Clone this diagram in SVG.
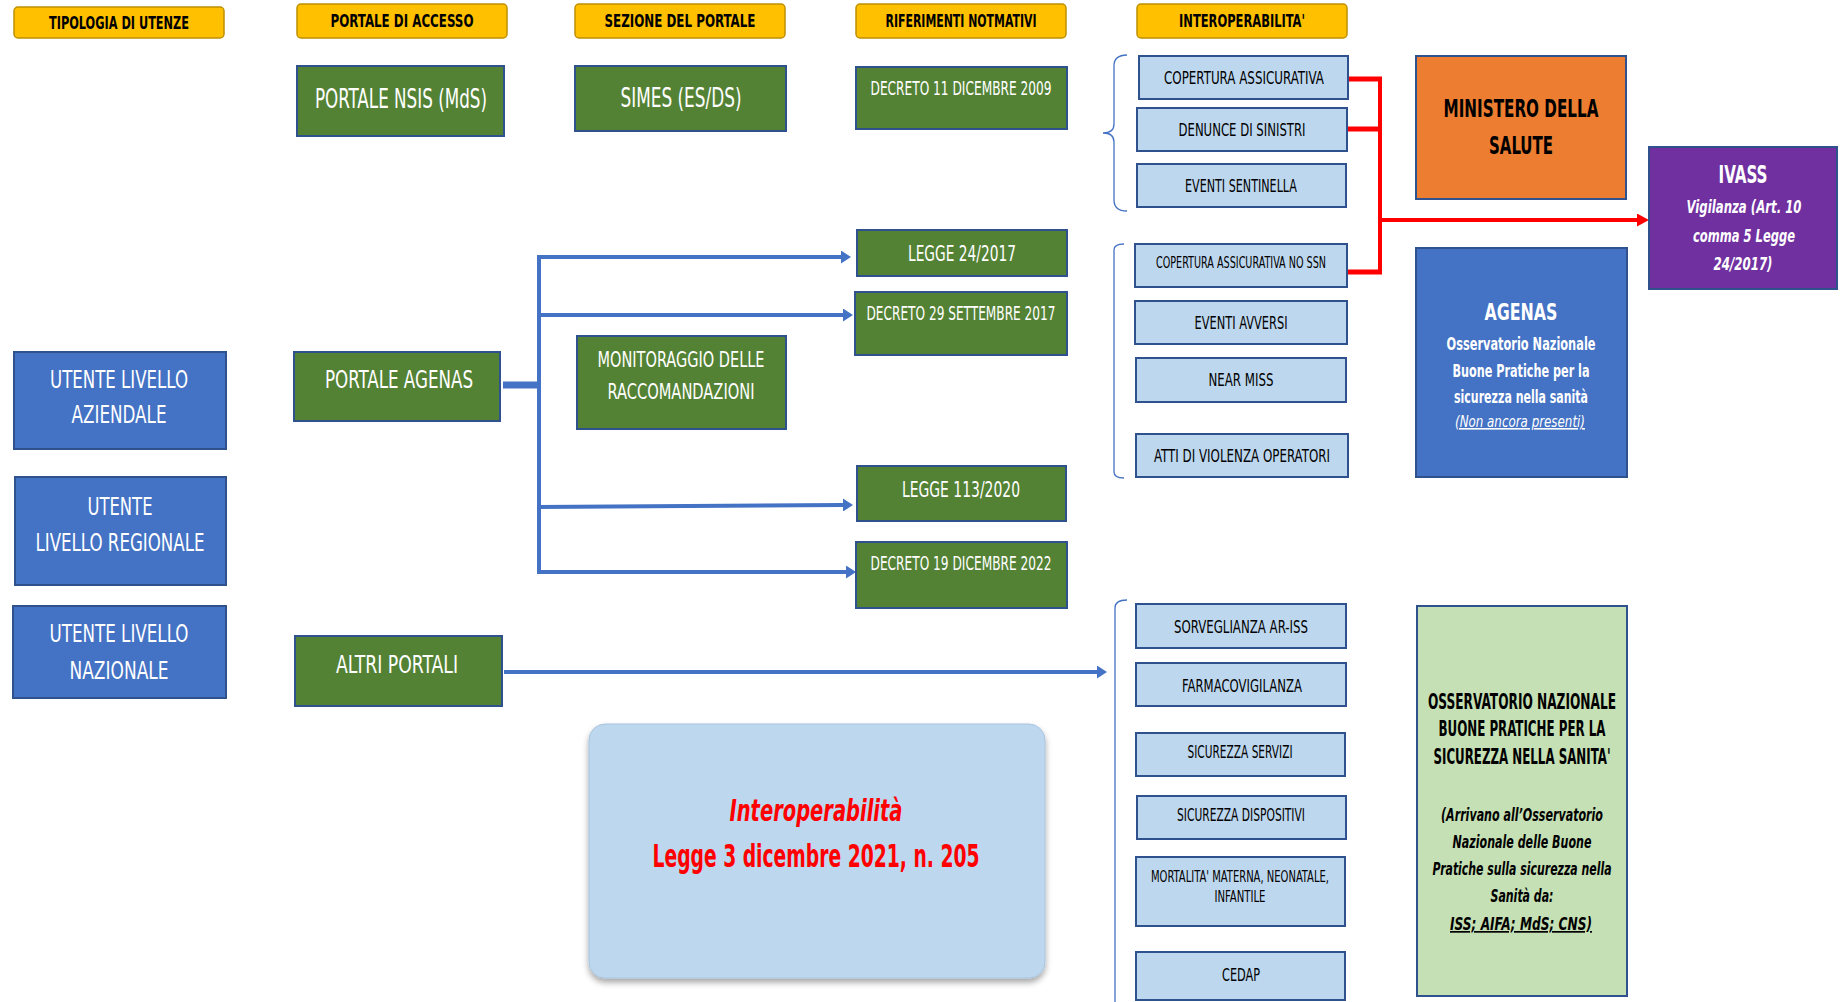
<svg xmlns="http://www.w3.org/2000/svg" width="1844" height="1002" viewBox="0 0 1844 1002">
<style>
text{font-family:'Liberation Sans Narrow','DejaVu Sans Condensed','Liberation Sans',sans-serif;text-anchor:middle}
.hdr rect{fill:#FFC000;stroke:#BF9000;stroke-width:1.5}
.hdr text{font-weight:bold;font-size:17px;fill:#000}
.g rect{fill:#548235;stroke:#2F528F;stroke-width:2}
.b rect{fill:#4472C4;stroke:#2F528F;stroke-width:2}
.lb rect{fill:#BDD7EE;stroke:#2F528F;stroke-width:2}
.w{fill:#fff}
.k{fill:#000}
.blue{stroke:#4472C4;fill:none}
.red{stroke:#FF0000;fill:none}
.brace{stroke:#4472C4;stroke-width:1.3;fill:none}
</style>
<defs>
<marker id="ab" viewBox="0 -6.5 10 13" refX="0" refY="0" markerWidth="10" markerHeight="13" markerUnits="userSpaceOnUse" orient="auto"><path d="M0,-6.5 L10,0 L0,6.5 z" fill="#4472C4"/></marker>
<marker id="ar" viewBox="0 -6.5 12 13" refX="0" refY="0" markerWidth="12" markerHeight="13" markerUnits="userSpaceOnUse" orient="auto"><path d="M0,-6.5 L12,0 L0,6.5 z" fill="#FF0000"/></marker>
<filter id="sh" x="-10%" y="-10%" width="120%" height="130%"><feDropShadow dx="0" dy="4" stdDeviation="3" flood-color="#000" flood-opacity="0.35"/></filter>
</defs>

<!-- headers -->
<g id="h-tipologia" class="hdr"><rect x="14" y="7" width="210" height="31" rx="4"/><text x="119" y="29" textLength="140" lengthAdjust="spacingAndGlyphs">TIPOLOGIA  DI UTENZE</text></g>
<g id="h-portale" class="hdr"><rect x="297" y="4" width="210" height="34" rx="4"/><text x="402" y="27" textLength="143" lengthAdjust="spacingAndGlyphs">PORTALE  DI ACCESSO</text></g>
<g id="h-sezione" class="hdr"><rect x="575" y="4" width="210" height="34" rx="4"/><text x="680" y="27" textLength="151" lengthAdjust="spacingAndGlyphs">SEZIONE  DEL  PORTALE</text></g>
<g id="h-riferimenti" class="hdr"><rect x="856" y="4" width="210" height="34" rx="4"/><text x="961" y="27" textLength="151" lengthAdjust="spacingAndGlyphs">RIFERIMENTI  NOTMATIVI</text></g>
<g id="h-interop" class="hdr"><rect x="1137" y="4" width="210" height="34" rx="4"/><text x="1242" y="27" textLength="126" lengthAdjust="spacingAndGlyphs">INTEROPERABILITA'</text></g>

<!-- connectors -->
<g id="connectors">
<path class="blue" stroke-width="7" d="M503,385 H541"/>
<path class="blue" stroke-width="4" d="M539,255 V574"/>
<path class="blue" stroke-width="4" d="M537,257 H841" marker-end="url(#ab)"/>
<path class="blue" stroke-width="4" d="M537,315 H843" marker-end="url(#ab)"/>
<path class="blue" stroke-width="4" d="M537,507 L843,505" marker-end="url(#ab)"/>
<path class="blue" stroke-width="4" d="M537,572 H846" marker-end="url(#ab)"/>
<path class="blue" stroke-width="4" d="M504,672 H1097" marker-end="url(#ab)"/>
<path class="red" stroke-width="5" d="M1348,79 H1382"/>
<path class="red" stroke-width="5" d="M1347,129 H1382"/>
<path class="red" stroke-width="5" d="M1347,272 H1382"/>
<path class="red" stroke-width="4" d="M1380,77 V274"/>
<path class="red" stroke-width="4" d="M1380,220 H1637" marker-end="url(#ar)"/>
<path class="brace" d="M1127,55 Q1114,55 1114,66 L1114,124 Q1114,133 1103,133 Q1114,133 1114,142 L1114,200 Q1114,211 1127,211"/>
<path class="brace" d="M1124,244 Q1114,244 1114,250 L1114,472 Q1114,478 1124,478"/>
<path class="brace" d="M1127,600 Q1115,600 1115,608 L1115,1002"/>
</g>

<!-- users -->
<g id="utente-aziendale" class="b"><rect x="14" y="352" width="212" height="97"/><text class="w" font-size="25" x="119" y="388" textLength="138" lengthAdjust="spacingAndGlyphs">UTENTE LIVELLO</text><text class="w" font-size="25" x="119" y="423" textLength="95" lengthAdjust="spacingAndGlyphs">AZIENDALE</text></g>
<g id="utente-regionale" class="b"><rect x="15" y="477" width="211" height="108"/><text class="w" font-size="25" x="120" y="515" textLength="65" lengthAdjust="spacingAndGlyphs">UTENTE</text><text class="w" font-size="25" x="120" y="551" textLength="169" lengthAdjust="spacingAndGlyphs">LIVELLO REGIONALE</text></g>
<g id="utente-nazionale" class="b"><rect x="13" y="606" width="213" height="92"/><text class="w" font-size="25" x="119" y="642" textLength="139" lengthAdjust="spacingAndGlyphs">UTENTE LIVELLO</text><text class="w" font-size="25" x="119" y="679" textLength="99" lengthAdjust="spacingAndGlyphs">NAZIONALE</text></g>

<!-- portals -->
<g id="portale-nsis" class="g"><rect x="297" y="66" width="207" height="70"/><text class="w" font-size="26" x="401" y="108" textLength="172" lengthAdjust="spacingAndGlyphs">PORTALE NSIS (MdS)</text></g>
<g id="portale-agenas" class="g"><rect x="294" y="352" width="206" height="69"/><text class="w" font-size="25" x="399" y="388" textLength="148" lengthAdjust="spacingAndGlyphs">PORTALE AGENAS</text></g>
<g id="altri-portali" class="g"><rect x="295" y="636" width="207" height="70"/><text class="w" font-size="25" x="397" y="673" textLength="122" lengthAdjust="spacingAndGlyphs">ALTRI PORTALI</text></g>

<!-- sections -->
<g id="simes" class="g"><rect x="575" y="66" width="211" height="65"/><text class="w" font-size="26" x="681" y="107" textLength="121" lengthAdjust="spacingAndGlyphs">SIMES (ES/DS)</text></g>
<g id="monitoraggio" class="g"><rect x="577" y="336" width="209" height="93"/><text class="w" font-size="21" x="681" y="367" textLength="167" lengthAdjust="spacingAndGlyphs">MONITORAGGIO DELLE</text><text class="w" font-size="21" x="681" y="399" textLength="147" lengthAdjust="spacingAndGlyphs">RACCOMANDAZIONI</text></g>

<!-- norms -->
<g id="decreto-2009" class="g"><rect x="856" y="67" width="211" height="62"/><text class="w" font-size="19" x="961" y="95" textLength="181" lengthAdjust="spacingAndGlyphs">DECRETO 11 DICEMBRE 2009</text></g>
<g id="legge-24-2017" class="g"><rect x="857" y="230" width="210" height="46"/><text class="w" font-size="21" x="962" y="261" textLength="108" lengthAdjust="spacingAndGlyphs">LEGGE 24/2017</text></g>
<g id="decreto-2017" class="g"><rect x="855" y="292" width="212" height="63"/><text class="w" font-size="19" x="961" y="320" textLength="189" lengthAdjust="spacingAndGlyphs">DECRETO 29 SETTEMBRE 2017</text></g>
<g id="legge-113-2020" class="g"><rect x="857" y="466" width="209" height="55"/><text class="w" font-size="21" x="961" y="497" textLength="118" lengthAdjust="spacingAndGlyphs">LEGGE 113/2020</text></g>
<g id="decreto-2022" class="g"><rect x="856" y="542" width="211" height="66"/><text class="w" font-size="19" x="961" y="570" textLength="181" lengthAdjust="spacingAndGlyphs">DECRETO 19 DICEMBRE 2022</text></g>

<!-- interoperability items -->
<g id="copertura" class="lb"><rect x="1139" y="56" width="209" height="43"/><text class="k" font-size="18" x="1244" y="84" textLength="160" lengthAdjust="spacingAndGlyphs">COPERTURA  ASSICURATIVA</text></g>
<g id="denunce" class="lb"><rect x="1137" y="108" width="210" height="43"/><text class="k" font-size="18" x="1242" y="136" textLength="127" lengthAdjust="spacingAndGlyphs">DENUNCE  DI SINISTRI</text></g>
<g id="sentinella" class="lb"><rect x="1137" y="164" width="209" height="43"/><text class="k" font-size="18" x="1241" y="192" textLength="112" lengthAdjust="spacingAndGlyphs">EVENTI  SENTINELLA</text></g>
<g id="copertura-nossn" class="lb"><rect x="1135" y="244" width="212" height="43"/><text class="k" font-size="15" x="1241" y="268" textLength="170" lengthAdjust="spacingAndGlyphs">COPERTURA ASSICURATIVA NO SSN</text></g>
<g id="avversi" class="lb"><rect x="1135" y="301" width="212" height="43"/><text class="k" font-size="18" x="1241" y="329" textLength="93" lengthAdjust="spacingAndGlyphs">EVENTI  AVVERSI</text></g>
<g id="near-miss" class="lb"><rect x="1136" y="358" width="210" height="44"/><text class="k" font-size="18" x="1241" y="386" textLength="65" lengthAdjust="spacingAndGlyphs">NEAR  MISS</text></g>
<g id="violenza" class="lb"><rect x="1136" y="434" width="212" height="43"/><text class="k" font-size="18" x="1242" y="462" textLength="176" lengthAdjust="spacingAndGlyphs">ATTI  DI VIOLENZA  OPERATORI</text></g>
<g id="sorveglianza" class="lb"><rect x="1136" y="604" width="210" height="44"/><text class="k" font-size="18" x="1241" y="633" textLength="134" lengthAdjust="spacingAndGlyphs">SORVEGLIANZA  AR-ISS</text></g>
<g id="farmacovigilanza" class="lb"><rect x="1136" y="663" width="210" height="43"/><text class="k" font-size="18" x="1242" y="692" textLength="120" lengthAdjust="spacingAndGlyphs">FARMACOVIGILANZA</text></g>
<g id="sicurezza-servizi" class="lb"><rect x="1136" y="733" width="209" height="43"/><text class="k" font-size="17" x="1240" y="758" textLength="105" lengthAdjust="spacingAndGlyphs">SICUREZZA SERVIZI</text></g>
<g id="sicurezza-dispositivi" class="lb"><rect x="1137" y="796" width="209" height="43"/><text class="k" font-size="17" x="1241" y="821" textLength="128" lengthAdjust="spacingAndGlyphs">SICUREZZA DISPOSITIVI</text></g>
<g id="mortalita" class="lb"><rect x="1136" y="857" width="209" height="69"/><text class="k" font-size="16" x="1240" y="882" textLength="178" lengthAdjust="spacingAndGlyphs">MORTALITA' MATERNA, NEONATALE,</text><text class="k" font-size="16" x="1240" y="902" textLength="51" lengthAdjust="spacingAndGlyphs">INFANTILE</text></g>
<g id="cedap" class="lb"><rect x="1136" y="952" width="209" height="48"/><text class="k" font-size="17" x="1241" y="981" textLength="38" lengthAdjust="spacingAndGlyphs">CEDAP</text></g>

<!-- right side -->
<g id="ministero"><rect x="1416" y="56" width="210" height="143" fill="#ED7D31" stroke="#2F528F" stroke-width="2"/><text class="k" font-weight="bold" font-size="25" x="1521" y="117" textLength="155" lengthAdjust="spacingAndGlyphs">MINISTERO DELLA</text><text class="k" font-weight="bold" font-size="25" x="1521" y="154" textLength="64" lengthAdjust="spacingAndGlyphs">SALUTE</text></g>
<g id="agenas"><rect x="1416" y="248" width="211" height="229" fill="#4472C4" stroke="#2F528F" stroke-width="2"/>
<text class="w" font-weight="bold" font-size="23" x="1521" y="320" textLength="73" lengthAdjust="spacingAndGlyphs">AGENAS</text>
<text class="w" font-weight="bold" font-size="18" x="1521" y="350" textLength="149" lengthAdjust="spacingAndGlyphs">Osservatorio Nazionale</text>
<text class="w" font-weight="bold" font-size="18" x="1521" y="377" textLength="137" lengthAdjust="spacingAndGlyphs">Buone Pratiche per la</text>
<text class="w" font-weight="bold" font-size="18" x="1521" y="403" textLength="134" lengthAdjust="spacingAndGlyphs">sicurezza nella sanità</text>
<text class="w" font-size="16" font-style="italic" text-decoration="underline" x="1520" y="427" textLength="130" lengthAdjust="spacingAndGlyphs">(Non ancora presenti)</text></g>
<g id="ivass"><rect x="1649" y="147" width="188" height="142" fill="#7030A0" stroke="#2F528F" stroke-width="2"/>
<text class="w" font-weight="bold" font-size="25" x="1743" y="183" textLength="49" lengthAdjust="spacingAndGlyphs">IVASS</text>
<text class="w" font-weight="bold" font-style="italic" font-size="18" x="1744" y="213" textLength="115" lengthAdjust="spacingAndGlyphs">Vigilanza (Art. 10</text>
<text class="w" font-weight="bold" font-style="italic" font-size="18" x="1744" y="242" textLength="102" lengthAdjust="spacingAndGlyphs">comma 5 Legge</text>
<text class="w" font-weight="bold" font-style="italic" font-size="18" x="1743" y="270" textLength="59" lengthAdjust="spacingAndGlyphs">24/2017)</text></g>
<g id="osservatorio"><rect x="1417" y="606" width="210" height="390" fill="#C5E0B4" stroke="#2F528F" stroke-width="2"/>
<text class="k" font-weight="bold" font-size="21" x="1522" y="709" textLength="188" lengthAdjust="spacingAndGlyphs">OSSERVATORIO NAZIONALE</text>
<text class="k" font-weight="bold" font-size="21" x="1522" y="736" textLength="167" lengthAdjust="spacingAndGlyphs">BUONE PRATICHE PER LA</text>
<text class="k" font-weight="bold" font-size="21" x="1522" y="764" textLength="177" lengthAdjust="spacingAndGlyphs">SICUREZZA NELLA SANITA'</text>
<text class="k" font-weight="bold" font-style="italic" font-size="17" x="1522" y="821" textLength="162" lengthAdjust="spacingAndGlyphs">(Arrivano all’Osservatorio</text>
<text class="k" font-weight="bold" font-style="italic" font-size="17" x="1522" y="848" textLength="139" lengthAdjust="spacingAndGlyphs">Nazionale  delle  Buone</text>
<text class="k" font-weight="bold" font-style="italic" font-size="17" x="1522" y="875" textLength="179" lengthAdjust="spacingAndGlyphs">Pratiche sulla  sicurezza nella</text>
<text class="k" font-weight="bold" font-style="italic" font-size="17" x="1522" y="902" textLength="63" lengthAdjust="spacingAndGlyphs">Sanità da:</text>
<text class="k" font-weight="bold" font-style="italic" font-size="17" text-decoration="underline" x="1521" y="930" textLength="142" lengthAdjust="spacingAndGlyphs">ISS; AIFA; MdS; CNS)</text></g>

<!-- interoperability law box -->
<g id="interop-legge"><rect x="589" y="724" width="456" height="254" rx="16" fill="#BDD7EE" stroke="#A9C4E0" stroke-width="1" filter="url(#sh)"/>
<text fill="#FF0000" font-weight="bold" font-style="italic" font-size="30" x="816" y="821" textLength="173" lengthAdjust="spacingAndGlyphs">Interoperabilità</text>
<text fill="#FF0000" font-weight="bold" font-size="32" x="816" y="867" textLength="327" lengthAdjust="spacingAndGlyphs">Legge 3 dicembre 2021, n. 205</text></g>
</svg>
